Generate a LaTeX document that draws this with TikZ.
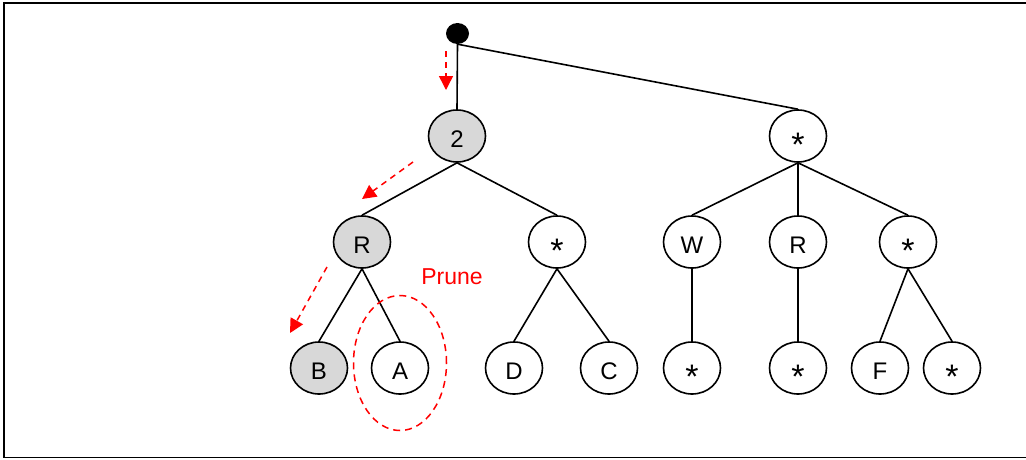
\documentclass[tikz,border=0pt]{standalone}
\usepackage{fontspec}
\setmainfont{Liberation Sans}
\usetikzlibrary{arrows.meta,shapes.geometric}
\definecolor{nodegray}{RGB}{216,216,216}
\definecolor{prunered}{RGB}{255,0,0}
\newcommand{\starlbl}{\fontsize{34}{34}\selectfont\raisebox{-20.5pt}{*}}
\begin{document}
\begin{tikzpicture}[x=1pt,y=-1pt,
  tnode/.style={ellipse, draw=black, line width=1.6pt, minimum width=57pt, minimum height=52pt, inner sep=0pt, text height=22pt, text depth=0pt, font=\fontsize{24}{28}\selectfont},
  starnode/.style={tnode, text height=0pt, text depth=0pt},
  visited/.style={tnode, fill=nodegray},
  edge/.style={draw=black, line width=1.6pt},
  walk/.style={draw=prunered, line width=1.5pt, dash pattern=on 6pt off 5pt, -{Triangle[length=14pt,width=14pt]}},
  rootdot/.style={ellipse, fill=black, minimum width=23pt, minimum height=21pt, inner sep=0pt}
]
\useasboundingbox (0,0) rectangle (1026,459);
\begin{scope}
\clip (0,0) rectangle (1026,459);
\draw[line width=1.8pt, black] (4,3) rectangle (1040,457.5);
\end{scope}
% nodes
\node[rootdot] (root) at (457.5,33.5) {};
\node[visited] (n2) at (457,136) {2};
\node[starnode] (s1) at (798,136) {\starlbl};
\node[visited] (r1) at (362,242) {R};
\node[starnode] (s2) at (557,242) {\starlbl};
\node[tnode] (w) at (692,242) {W};
\node[tnode] (r2) at (798,242) {R};
\node[starnode] (s3) at (908,242) {\starlbl};
\node[visited] (b) at (319,368) {B};
\node[tnode] (a) at (400,368) {A};
\node[tnode] (d) at (514,368) {D};
\node[tnode] (c) at (609,368) {C};
\node[starnode] (s4) at (692,368) {\starlbl};
\node[starnode] (s5) at (798,368) {\starlbl};
\node[tnode] (f) at (880,368) {F};
\node[starnode] (s6) at (952,368) {\starlbl};
% edges
\draw[edge] (root.south) -- (n2.north);
\draw[edge] (root.south) -- (s1.north);
\draw[edge] (n2.south) -- (r1.north);
\draw[edge] (n2.south) -- (s2.north);
\draw[edge] (r1.south) -- (b.north);
\draw[edge] (r1.south) -- (a.north);
\draw[edge] (s2.south) -- (d.north);
\draw[edge] (s2.south) -- (c.north);
\draw[edge] (s1.south) -- (w.north);
\draw[edge] (s1.south) -- (r2.north);
\draw[edge] (s1.south) -- (s3.north);
\draw[edge] (w.south) -- (s4.north);
\draw[edge] (r2.south) -- (s5.north);
\draw[edge] (s3.south) -- (f.north);
\draw[edge] (s3.south) -- (s6.north);
% traversal arrows
\coordinate (w1s) at (446,51);
\coordinate (w1e) at (446,90);
\coordinate (w2s) at (413,162);
\coordinate (w2e) at (362,199);
\coordinate (w3s) at (327,267);
\coordinate (w3e) at (290,333);
\draw[walk] (w1s) -- (w1e);
\draw[walk] (w2s) -- (w2e);
\draw[walk] (w3s) -- (w3e);
% prune
\node[ellipse, draw=prunered, line width=1.5pt, dash pattern=on 7pt off 5pt, minimum width=93pt, minimum height=135pt, inner sep=0pt] (prune) at (400,363) {};
\node[text=prunered, font=\fontsize{23}{27}\selectfont, inner sep=0pt] (prunelbl) at (452,277) {Prune};
\end{tikzpicture}
\end{document}
